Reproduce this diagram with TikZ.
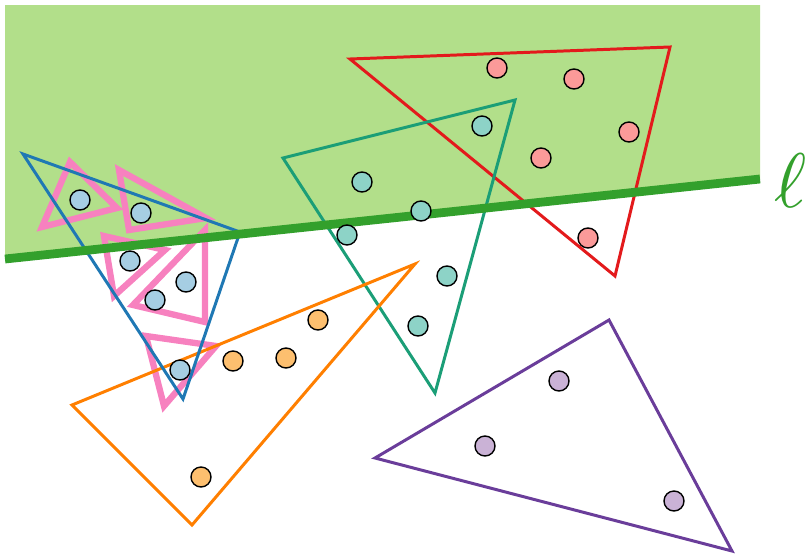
\documentclass[tikz,border=0pt]{standalone}
\usepackage{amsmath,amssymb}
\usepackage{tikz}
\usetikzlibrary{calc}
\definecolor{HalfGreen}{RGB}{178,223,138}
\definecolor{CutGreen}{RGB}{51,160,44}
\definecolor{TriRed}{RGB}{227,26,28}
\definecolor{TriTeal}{RGB}{27,158,119}
\definecolor{TriOrange}{RGB}{255,127,0}
\definecolor{TriPurple}{RGB}{106,61,154}
\definecolor{TriBlue}{RGB}{31,120,180}
\definecolor{TriPink}{RGB}{247,129,191}
\definecolor{DotRed}{RGB}{251,154,153}
\definecolor{DotTeal}{RGB}{141,211,199}
\definecolor{DotOrange}{RGB}{253,191,111}
\definecolor{DotPurple}{RGB}{202,178,214}
\definecolor{DotBlue}{RGB}{166,206,227}
\tikzset{
  tri/.style={line width=1.7pt,line join=miter},
  thin tri/.style={draw=TriPink,line width=3.6pt,line join=miter},
  cut/.style={draw=CutGreen,line width=5pt},
}
\tikzset{pt/.style={circle,draw=black,line width=0.8pt,minimum size=0.4cm,inner sep=0pt}}

\begin{document}
\begin{tikzpicture}[x=0.02cm,y=-0.02cm]
\useasboundingbox (0,0) rectangle (808,555);
% halfplane
\coordinate (hl) at (5,5);
\coordinate (hr) at (760,5);
\coordinate (cr) at (760,179);
\coordinate (cl) at (5,259);
\fill[HalfGreen] (hl)--(hr)--(cr)--(cl)--cycle;
% small pink triangles
\coordinate (pa1) at (70,162);
\coordinate (pa2) at (117,208);
\coordinate (pa3) at (42,227);
\coordinate (pb1) at (119,170);
\coordinate (pb2) at (206,218);
\coordinate (pb3) at (129,230);
\coordinate (pc1) at (104,236);
\coordinate (pc2) at (165,250);
\coordinate (pc3) at (114,296);
\coordinate (pd1) at (205,230);
\coordinate (pd2) at (205,322);
\coordinate (pd3) at (133,305);
\coordinate (pe1) at (146,336);
\coordinate (pe2) at (216,346);
\coordinate (pe3) at (164,406);
\draw[thin tri] (pa1)--(pa2)--(pa3)--cycle;
\draw[thin tri] (pb1)--(pb2)--(pb3)--cycle;
\draw[thin tri] (pc1)--(pc2)--(pc3)--cycle;
\draw[thin tri] (pd1)--(pd2)--(pd3)--cycle;
\draw[thin tri] (pe1)--(pe2)--(pe3)--cycle;
% big triangles
\coordinate (ra) at (350,59);
\coordinate (rb) at (670,47);
\coordinate (rc) at (615,276);
\coordinate (ta) at (283,158);
\coordinate (tb) at (515,100);
\coordinate (tc) at (435,393);
\coordinate (oa) at (72,405);
\coordinate (ob) at (415,264);
\coordinate (oc) at (192,525);
\coordinate (ua) at (375,458);
\coordinate (ub) at (609,320);
\coordinate (uc) at (732,551);
\coordinate (ba) at (23,154);
\coordinate (bb) at (240,232);
\coordinate (bc) at (183,399);
\draw[tri,draw=TriRed] (ra)--(rb)--(rc)--cycle;
\draw[tri,draw=TriTeal] (ta)--(tb)--(tc)--cycle;
\draw[tri,draw=TriOrange] (oa)--(ob)--(oc)--cycle;
\draw[tri,draw=TriPurple] (ua)--(ub)--(uc)--cycle;
\draw[tri,draw=TriBlue] (ba)--(bb)--(bc)--cycle;
% cutting line
\draw[cut] (cl)--(cr);
% points
\node[pt,fill=DotRed] (r1) at (497,68) {};
\node[pt,fill=DotRed] (r2) at (574,79) {};
\node[pt,fill=DotRed] (r3) at (629,132) {};
\node[pt,fill=DotRed] (r4) at (541,158) {};
\node[pt,fill=DotRed] (r5) at (588,238) {};
\node[pt,fill=DotTeal] (t1) at (482,126) {};
\node[pt,fill=DotTeal] (t2) at (362,182) {};
\node[pt,fill=DotTeal] (t3) at (421,211) {};
\node[pt,fill=DotTeal] (t4) at (347,235) {};
\node[pt,fill=DotTeal] (t5) at (447,276) {};
\node[pt,fill=DotTeal] (t6) at (418,326) {};
\node[pt,fill=DotOrange] (o1) at (318,320) {};
\node[pt,fill=DotOrange] (o2) at (233,361) {};
\node[pt,fill=DotOrange] (o3) at (286,358) {};
\node[pt,fill=DotOrange] (o4) at (201,477) {};
\node[pt,fill=DotPurple] (u1) at (559,381) {};
\node[pt,fill=DotPurple] (u2) at (485,446) {};
\node[pt,fill=DotPurple] (u3) at (674,501) {};
\node[pt,fill=DotBlue] (b1) at (80,200) {};
\node[pt,fill=DotBlue] (b2) at (141,213) {};
\node[pt,fill=DotBlue] (b3) at (130,261) {};
\node[pt,fill=DotBlue] (b4) at (186,282) {};
\node[pt,fill=DotBlue] (b5) at (155,300) {};
\node[pt,fill=DotBlue] (b6) at (180,370) {};
% label
\node[text=CutGreen,scale=4.4,inner sep=0pt] (ell) at (791,181) {$\ell$};
\end{tikzpicture}
\end{document}
